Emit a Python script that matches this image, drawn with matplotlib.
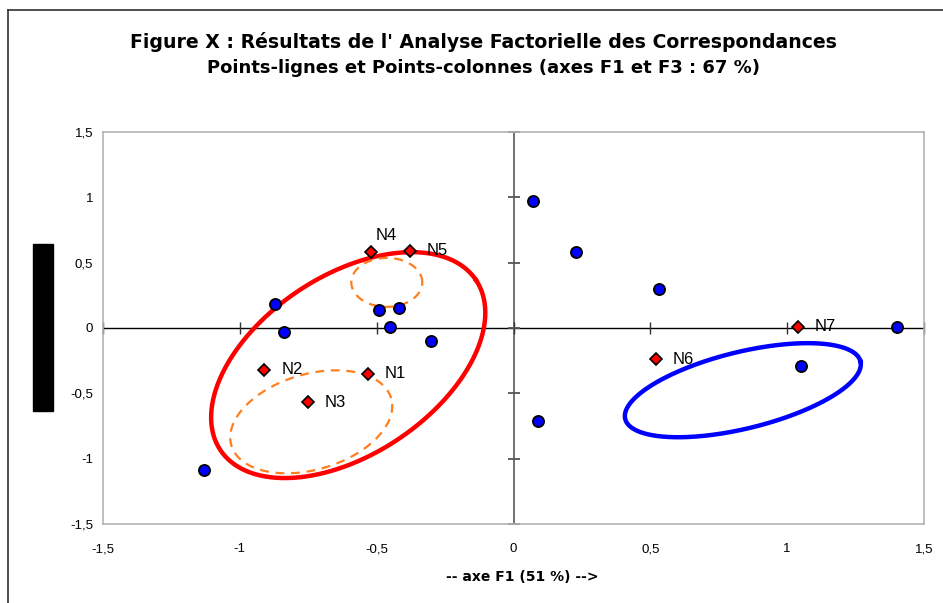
import numpy as np
import matplotlib
matplotlib.use("Agg")
import matplotlib.pyplot as plt
from matplotlib.patches import Rectangle
from matplotlib.lines import Line2D

plt.rcParams['font.family'] = ['Liberation Sans', 'DejaVu Sans']

# --- data ---
col_x = [-1.13, -0.87, -0.84, -0.49, -0.42, -0.45, -0.30, 0.07, 0.23, 0.53, 0.09, 1.05, 1.40]
col_y = [-1.09, 0.18, -0.03, 0.14, 0.15, 0.01, -0.10, 0.97, 0.58, 0.30, -0.71, -0.29, 0.01]

row_names = ["N1", "N2", "N3", "N4", "N5", "N6", "N7"]
row_x = [-0.53, -0.91, -0.75, -0.52, -0.38, 0.52, 1.04]
row_y = [-0.35, -0.32, -0.57, 0.58, 0.59, -0.24, 0.01]

ticks = [-1.5, -1, -0.5, 0, 0.5, 1, 1.5]
tick_labels = ["-1,5", "-1", "-0,5", "0", "0,5", "1", "1,5"]

# ellipses: centre (data), semi-axes (px), angle (deg, on screen)
ell_centres = [(-0.604, -0.284), (-0.463, 0.349), (-0.739, -0.718), (0.838, -0.476)]
ell_axes = [(153.5, 89.4), (35.5, 24.5), (83.3, 47.7), (121.1, 38.3)]
ell_angles = [33.6, 0, 16.5, 13.75]
ell_colors = ["#ff0000", "#ff7f1e", "#ff7f1e", "#0000ff"]
ell_styles = ["-", (0, (4, 3)), (0, (4, 3)), "-"]
ell_widths = [3.2, 1.6, 1.6, 3.2]

W, H = 943, 603
fig = plt.figure(figsize=(W / 100, H / 100), dpi=100)
ax = fig.add_axes([103 / W, 1 - 524 / H, (924 - 103) / W, (524 - 132) / H])

ax.set_xlim(-1.5, 1.5)
ax.set_ylim(-1.5, 1.5)
ax.set_xticks(ticks)
ax.set_xticklabels(tick_labels)
ax.set_yticks(ticks)
ax.set_yticklabels(tick_labels)
ax.tick_params(length=0, labelsize=9.5)
ax.tick_params(axis='x', pad=14)
ax.tick_params(axis='y', pad=7)
for s in ax.spines.values():
    s.set_color('#b4b4b4')
    s.set_linewidth(1.2)

# axes through origin, with cross ticks
ax.axhline(0, color='black', lw=1, zorder=1)
ax.axvline(0, color='#666666', lw=1.3, zorder=1)
zeros = [0] * len(ticks)
ax.plot(ticks, zeros, ls='none', marker='|', ms=8, mew=1, color='#333333', zorder=1, clip_on=False)
ax.plot(zeros, ticks, ls='none', marker='_', ms=8, mew=1.3, color='#555555', zorder=1, clip_on=False)

# px per data unit
sx = ax.get_position().width * W / 3.0
sy = ax.get_position().height * H / 3.0
t = np.linspace(0, 2 * np.pi, 400)
for (cx, cy), (a, b), ang, c, ls, lw in zip(ell_centres, ell_axes, ell_angles,
                                            ell_colors, ell_styles, ell_widths):
    th = np.radians(ang)
    ex = cx + (a * np.cos(th) * np.cos(t) - b * np.sin(th) * np.sin(t)) / sx
    ey = cy + (a * np.sin(th) * np.cos(t) + b * np.cos(th) * np.sin(t)) / sy
    ax.plot(ex, ey, color=c, ls=ls, lw=lw, zorder=2)

ax.plot(col_x, col_y, ls='none', marker='o', ms=8, mfc='#0000ff', mec='black', mew=1.3, zorder=4)
ax.plot(row_x, row_y, ls='none', marker='D', ms=6.5, mfc='#ff0000', mec='black', mew=1.2, zorder=4)

for name, x, y in zip(row_names, row_x, row_y):
    off = (3, 12) if name == "N4" else (12, 0)
    ax.annotate(name, (x, y), xytext=off, textcoords='offset points',
                ha='left', va='center', fontsize=12, zorder=5)

# titles
fig.text(483 / W, 1 - 42 / H, "Figure X : Résultats de l' Analyse Factorielle des Correspondances",
         ha='center', va='center', fontsize=13.6, fontweight='bold', family='DejaVu Sans')
fig.text(484 / W, 1 - 68 / H, "Points-lignes et Points-colonnes (axes F1 et F3 : 67 %)",
         ha='center', va='center', fontsize=13, fontweight='bold', family='DejaVu Sans')
fig.text(522 / W, 1 - 577 / H, "-- axe F1 (51 %) -->",
         ha='center', va='center', fontsize=10, fontweight='bold', family='DejaVu Sans')

# chart border and the black box over the vertical axis title
fig.add_artist(Line2D([8 / W, 8 / W], [0, 1 - 10 / H], color='#303030', lw=1.2))
fig.add_artist(Line2D([8 / W, 1], [1 - 10 / H, 1 - 10 / H], color='#303030', lw=1.2))
fig.add_artist(Rectangle((33 / W, 1 - 411 / H), 20 / W, 167 / H, color='black'))

fig.savefig("out.png", dpi=100)
